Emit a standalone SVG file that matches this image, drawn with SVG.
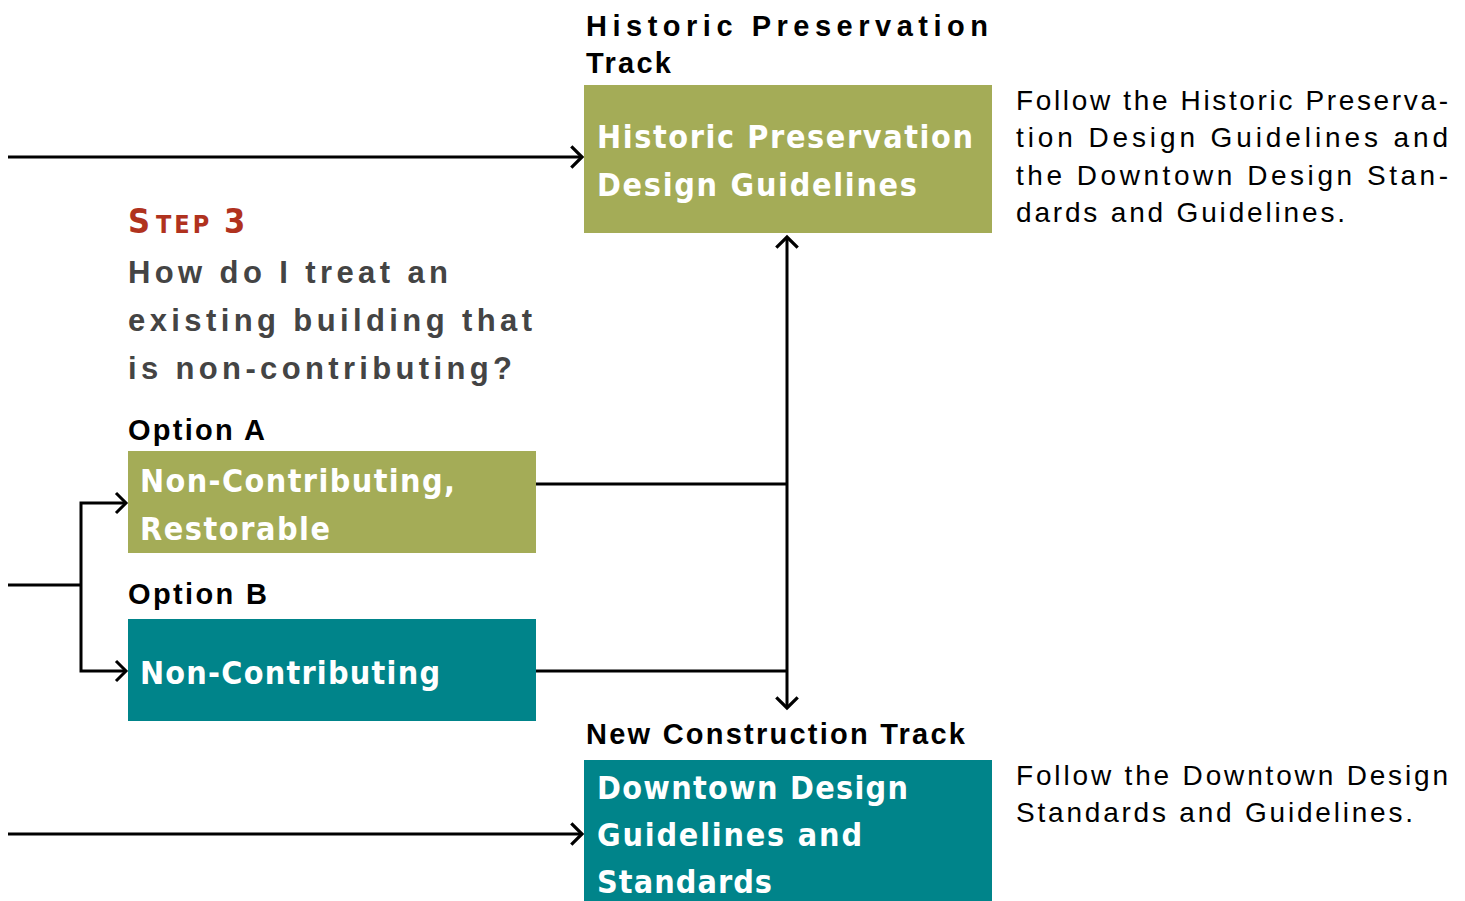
<svg xmlns="http://www.w3.org/2000/svg" width="1465" height="901" viewBox="0 0 1465 901">
<defs>
<style>
.olive{fill:#A4AC57}
.teal{fill:#00848A}
.box{font-family:"DejaVu Sans Condensed","Liberation Sans Narrow",sans-serif;font-weight:bold;font-size:32px;fill:#fff}
.hd{font-family:"Liberation Sans",Arial,sans-serif;font-weight:bold;font-size:29px;fill:#000}
.q{font-family:"Liberation Sans",Arial,sans-serif;font-weight:bold;font-size:31px;fill:#444}
.body{font-family:"Liberation Sans",Arial,sans-serif;font-size:28px;fill:#000}
.step{font-family:"DejaVu Sans Condensed","Liberation Sans Narrow",sans-serif;font-weight:bold;fill:#B0321E}
.ln{stroke:#000;stroke-width:3;fill:none}
</style>
<marker id="arr" markerUnits="userSpaceOnUse" markerWidth="30" markerHeight="30" viewBox="-14 -14 28 28" refX="0" refY="0" orient="auto-start-reverse">
<path d="M-10,-10 L0,0 L-10,10" fill="none" stroke="#000" stroke-width="3"/>
</marker>
</defs>
<rect width="1465" height="901" fill="#fff"/>

<g id="connectors">
<line class="ln" x1="8" y1="157" x2="582" y2="157" marker-end="url(#arr)"/>
<line class="ln" x1="8" y1="834" x2="582" y2="834" marker-end="url(#arr)"/>
<line class="ln" x1="787" y1="237" x2="787" y2="708" marker-start="url(#arr)" marker-end="url(#arr)"/>
<line class="ln" x1="536" y1="484" x2="787" y2="484"/>
<line class="ln" x1="536" y1="671" x2="787" y2="671"/>
<line class="ln" x1="8" y1="585" x2="81" y2="585"/>
<polyline class="ln" points="126,503 81,503 81,671 126,671"/>
<path d="M116,493 L126,503 L116,513 M116,661 L126,671 L116,681" fill="none" stroke="#000" stroke-width="3"/>
</g>

<g id="hp-track">
<text class="hd" x="586" y="36" textLength="402" lengthAdjust="spacing">Historic  Preservation</text>
<text class="hd" x="586" y="73" textLength="85" lengthAdjust="spacing">Track</text>
<rect class="olive" x="584" y="85" width="408" height="148"/>
<text class="box" x="597" y="148" textLength="376" lengthAdjust="spacing">Historic Preservation</text>
<text class="box" x="597" y="196" textLength="320" lengthAdjust="spacing">Design Guidelines</text>
</g>

<g id="hp-note">
<text class="body" x="1016" y="110" textLength="432" lengthAdjust="spacing">Follow the Historic Preserva-</text>
<text class="body" x="1016" y="147" textLength="432" lengthAdjust="spacing">tion Design Guidelines and</text>
<text class="body" x="1016" y="185" textLength="432" lengthAdjust="spacing">the Downtown Design Stan-</text>
<text class="body" x="1016" y="222" textLength="329" lengthAdjust="spacing">dards and Guidelines.</text>
</g>

<g id="step3">
<text class="step" y="233"><tspan x="128" font-size="34">S</tspan><tspan x="156" font-size="25" letter-spacing="3">TEP</tspan><tspan x="224" font-size="34">3</tspan></text>
<text class="q" x="128" y="283" textLength="320" lengthAdjust="spacing">How do I treat an</text>
<text class="q" x="128" y="331" textLength="404" lengthAdjust="spacing">existing building that</text>
<text class="q" x="128" y="379" textLength="384" lengthAdjust="spacing">is non-contributing?</text>
</g>

<g id="option-a">
<text class="hd" x="128" y="440" textLength="137" lengthAdjust="spacing">Option A</text>
<rect class="olive" x="128" y="451" width="408" height="102"/>
<text class="box" x="140" y="492" textLength="315" lengthAdjust="spacing">Non-Contributing,</text>
<text class="box" x="140" y="540" textLength="190" lengthAdjust="spacing">Restorable</text>
</g>

<g id="option-b">
<text class="hd" x="128" y="604" textLength="139" lengthAdjust="spacing">Option B</text>
<rect class="teal" x="128" y="619" width="408" height="102"/>
<text class="box" x="140" y="684" textLength="300" lengthAdjust="spacing">Non-Contributing</text>
</g>

<g id="nc-track">
<text class="hd" x="586" y="744" textLength="379" lengthAdjust="spacing">New Construction Track</text>
<rect class="teal" x="584" y="760" width="408" height="141"/>
<text class="box" x="597" y="799" textLength="311" lengthAdjust="spacing">Downtown Design</text>
<text class="box" x="597" y="846" textLength="265" lengthAdjust="spacing">Guidelines and</text>
<text class="box" x="597" y="893" textLength="175" lengthAdjust="spacing">Standards</text>
</g>

<g id="nc-note">
<text class="body" x="1016" y="785" textLength="432" lengthAdjust="spacing">Follow the Downtown Design</text>
<text class="body" x="1016" y="822" textLength="397" lengthAdjust="spacing">Standards and Guidelines.</text>
</g>
</svg>
